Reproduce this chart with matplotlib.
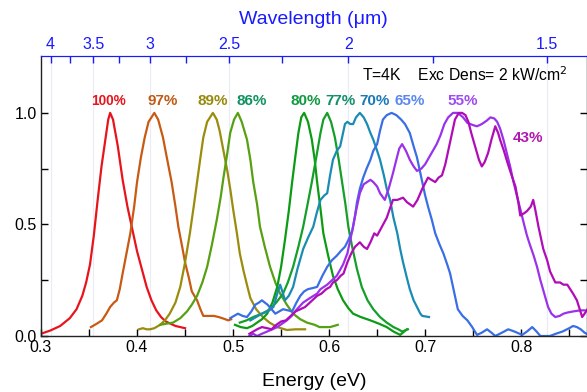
import numpy as np
import matplotlib
matplotlib.use("Agg")
import matplotlib.pyplot as plt
from matplotlib.ticker import FixedLocator, NullFormatter

plt.rcParams['font.family'] = ['Liberation Sans', 'DejaVu Sans']

# ---- data (energy in eV, normalized PL intensity) ----
e100 = [0.300, 0.310, 0.320, 0.330, 0.337, 0.343, 0.347, 0.351, 0.355, 0.359, 0.363, 0.367, 0.370, 0.372, 0.375,
        0.380, 0.385, 0.390, 0.395, 0.400, 0.405, 0.410, 0.415, 0.420, 0.425, 0.430, 0.440, 0.450]
i100 = [0.01, 0.025, 0.045, 0.08, 0.12, 0.18, 0.24, 0.32, 0.45, 0.61, 0.76, 0.88, 0.97, 1.0, 0.97,
        0.85, 0.70, 0.58, 0.48, 0.38, 0.30, 0.22, 0.16, 0.115, 0.085, 0.065, 0.045, 0.035]

e97 = [0.352, 0.358, 0.3635, 0.368, 0.372, 0.376, 0.379, 0.382, 0.385, 0.389, 0.393, 0.397, 0.400,
       0.404, 0.408, 0.412, 0.418, 0.422, 0.427, 0.431, 0.436, 0.440, 0.443, 0.447, 0.450, 0.454,
       0.457, 0.4625, 0.466, 0.469, 0.475, 0.480, 0.485, 0.490, 0.495, 0.498]
i97 = [0.04, 0.055, 0.07, 0.10, 0.13, 0.15, 0.16, 0.21, 0.28, 0.37, 0.46, 0.58, 0.69,
       0.80, 0.89, 0.96, 1.0, 0.97, 0.89, 0.80, 0.69, 0.58, 0.49, 0.40, 0.33, 0.26,
       0.20, 0.16, 0.12, 0.09, 0.09, 0.09, 0.085, 0.078, 0.07, 0.075]

e89 = [0.402, 0.406, 0.410, 0.4135, 0.418, 0.424, 0.429, 0.434, 0.440, 0.445, 0.450, 0.455, 0.459,
       0.4625, 0.466, 0.469, 0.473, 0.479, 0.483, 0.486, 0.490, 0.494, 0.497, 0.500, 0.504, 0.507,
       0.511, 0.515, 0.518, 0.524, 0.531, 0.538, 0.546, 0.556, 0.565, 0.575]
i89 = [0.03, 0.035, 0.03, 0.03, 0.035, 0.05, 0.07, 0.10, 0.15, 0.22, 0.33, 0.46, 0.58,
       0.69, 0.80, 0.89, 0.96, 1.0, 0.97, 0.92, 0.83, 0.74, 0.66, 0.57, 0.46, 0.37,
       0.29, 0.22, 0.17, 0.12, 0.085, 0.06, 0.04, 0.027, 0.03, 0.03]

e86 = [0.424, 0.430, 0.4375, 0.445, 0.452, 0.457, 0.4625, 0.468, 0.473, 0.478, 0.483, 0.487, 0.490,
       0.494, 0.497, 0.501, 0.505, 0.509, 0.5145, 0.518, 0.521, 0.525, 0.528, 0.533, 0.5385, 0.544,
       0.549, 0.556, 0.5625, 0.570, 0.577, 0.585, 0.590, 0.596, 0.601, 0.609]
i86 = [0.05, 0.055, 0.06, 0.08, 0.11, 0.14, 0.18, 0.24, 0.31, 0.41, 0.52, 0.62, 0.71,
       0.82, 0.91, 0.97, 1.0, 0.96, 0.88, 0.79, 0.69, 0.59, 0.49, 0.40, 0.31, 0.24,
       0.19, 0.14, 0.10, 0.075, 0.06, 0.05, 0.04, 0.04, 0.04, 0.05]

e80 = [0.502, 0.508, 0.5145, 0.520, 0.525, 0.530, 0.5355, 0.541, 0.546, 0.550, 0.554, 0.558, 0.5615,
       0.565, 0.568, 0.571, 0.574, 0.578, 0.582, 0.585, 0.5875, 0.591, 0.594, 0.599, 0.604, 0.609,
       0.6145, 0.620, 0.625, 0.633, 0.643, 0.652, 0.660, 0.667, 0.674, 0.681]
i80 = [0.05, 0.04, 0.035, 0.045, 0.06, 0.075, 0.10, 0.15, 0.22, 0.31, 0.43, 0.56, 0.69,
       0.81, 0.91, 0.98, 1.0, 0.96, 0.88, 0.79, 0.69, 0.57, 0.46, 0.36, 0.27, 0.21,
       0.16, 0.125, 0.10, 0.085, 0.07, 0.055, 0.04, 0.02, 0.005, 0.03]

e77 = [0.507, 0.514, 0.521, 0.530, 0.5385, 0.545, 0.552, 0.557, 0.5625, 0.568, 0.573, 0.578, 0.582,
       0.587, 0.591, 0.594, 0.598, 0.602, 0.606, 0.610, 0.6135, 0.617, 0.620, 0.624, 0.629, 0.634,
       0.640, 0.646, 0.653, 0.660, 0.667, 0.672, 0.676, 0.682]
i77 = [0.06, 0.07, 0.085, 0.10, 0.12, 0.15, 0.19, 0.24, 0.31, 0.40, 0.49, 0.60, 0.69,
       0.81, 0.91, 0.97, 1.0, 0.96, 0.89, 0.79, 0.69, 0.59, 0.49, 0.40, 0.30, 0.22,
       0.16, 0.12, 0.085, 0.06, 0.04, 0.03, 0.02, 0.03]

e70 = [0.518, 0.524, 0.530, 0.536, 0.542, 0.546, 0.549, 0.552, 0.554, 0.558, 0.5625, 0.567, 0.573,
       0.578, 0.5835, 0.587, 0.591, 0.595, 0.598, 0.601, 0.604, 0.608, 0.6115, 0.614, 0.6165, 0.619,
       0.622, 0.625, 0.628, 0.632, 0.636, 0.6395, 0.643, 0.646, 0.650, 0.653, 0.657, 0.660, 0.6635,
       0.667, 0.671, 0.674, 0.677, 0.681, 0.684, 0.688, 0.6915, 0.695, 0.697, 0.700, 0.704]
i70 = [0.07, 0.085, 0.10, 0.11, 0.13, 0.19, 0.23, 0.19, 0.16, 0.18, 0.22, 0.30, 0.39,
       0.44, 0.49, 0.55, 0.61, 0.63, 0.64, 0.72, 0.79, 0.83, 0.85, 0.90, 0.95, 0.96,
       0.95, 0.95, 0.98, 1.0, 0.98, 0.95, 0.91, 0.88, 0.83, 0.79, 0.72, 0.66, 0.61,
       0.53, 0.46, 0.39, 0.33, 0.26, 0.21, 0.16, 0.13, 0.10, 0.09, 0.088, 0.085]

e65 = [0.497, 0.501, 0.505, 0.510, 0.5145, 0.519, 0.523, 0.527, 0.530, 0.533, 0.536, 0.540, 0.544,
       0.548, 0.552, 0.557, 0.5615, 0.566, 0.570, 0.574, 0.578, 0.583, 0.5875, 0.593, 0.598, 0.603,
       0.608, 0.612, 0.6165, 0.620, 0.624, 0.627, 0.629, 0.632, 0.6355, 0.639, 0.643, 0.646, 0.650,
       0.653, 0.656, 0.660, 0.665, 0.670, 0.675, 0.679, 0.684, 0.688, 0.6915, 0.694, 0.697, 0.700,
       0.703, 0.707, 0.7105, 0.715, 0.719, 0.723, 0.726, 0.730, 0.734, 0.739, 0.744, 0.749, 0.754,
       0.759, 0.7645, 0.769, 0.773, 0.780, 0.7865, 0.793, 0.801, 0.806, 0.8115, 0.816, 0.820, 0.825,
       0.830, 0.836, 0.843, 0.850, 0.854, 0.858, 0.862, 0.866, 0.870]
i65 = [0.08, 0.09, 0.10, 0.09, 0.085, 0.11, 0.14, 0.15, 0.16, 0.15, 0.14, 0.12, 0.10,
       0.11, 0.12, 0.115, 0.11, 0.15, 0.18, 0.20, 0.21, 0.215, 0.22, 0.27, 0.31, 0.34,
       0.36, 0.38, 0.40, 0.43, 0.47, 0.54, 0.60, 0.66, 0.71, 0.75, 0.79, 0.83, 0.86,
       0.92, 0.97, 0.99, 1.0, 0.99, 0.97, 0.95, 0.91, 0.85, 0.80, 0.75, 0.69, 0.63,
       0.58, 0.52, 0.46, 0.41, 0.37, 0.32, 0.28, 0.20, 0.12, 0.09, 0.07, 0.04, 0.005,
       0.015, 0.03, 0.015, 0.0, 0.015, 0.03, 0.02, 0.005, 0.02, 0.04, 0.02, 0.0, 0.0,
       0.0, 0.01, 0.02, 0.035, 0.045, 0.04, 0.03, 0.015, 0.005]

e55 = [0.517, 0.521, 0.525, 0.530, 0.5355, 0.541, 0.546, 0.551, 0.556, 0.561, 0.5665, 0.573, 0.580,
       0.5875, 0.591, 0.598, 0.603, 0.608, 0.6145, 0.619, 0.622, 0.625, 0.628, 0.632, 0.636, 0.6395,
       0.643, 0.646, 0.650, 0.653, 0.658, 0.662, 0.6665, 0.670, 0.673, 0.676, 0.680, 0.684, 0.688,
       0.6915, 0.696, 0.700, 0.704, 0.708, 0.712, 0.716, 0.720, 0.724, 0.729, 0.734, 0.7395, 0.744,
       0.750, 0.754, 0.759, 0.764, 0.768, 0.772, 0.775, 0.778, 0.7815, 0.785, 0.7885, 0.792, 0.796,
       0.799, 0.803, 0.806, 0.809, 0.813, 0.8165, 0.820, 0.824, 0.828, 0.8315, 0.8355, 0.840, 0.844,
       0.848, 0.854, 0.8615, 0.866, 0.870]
i55 = [0.0, 0.01, 0.0, 0.01, 0.02, 0.03, 0.04, 0.055, 0.07, 0.09, 0.12, 0.15, 0.17,
       0.19, 0.21, 0.23, 0.25, 0.27, 0.32, 0.37, 0.43, 0.49, 0.56, 0.64, 0.68, 0.69,
       0.70, 0.69, 0.67, 0.64, 0.61, 0.66, 0.73, 0.79, 0.84, 0.86, 0.83, 0.79, 0.76,
       0.74, 0.75, 0.77, 0.80, 0.83, 0.86, 0.90, 0.95, 0.98, 1.0, 1.0, 0.98, 0.955,
       0.945, 0.94, 0.95, 0.965, 0.98, 0.975, 0.96, 0.93, 0.88, 0.82, 0.76, 0.69, 0.62,
       0.57, 0.50, 0.45, 0.41, 0.36, 0.31, 0.25, 0.19, 0.13, 0.10, 0.085, 0.09, 0.10,
       0.105, 0.11, 0.115, 0.115, 0.11]

e43 = [0.517, 0.521, 0.525, 0.530, 0.5355, 0.540, 0.545, 0.550, 0.555, 0.560, 0.565, 0.570, 0.575,
       0.580, 0.585, 0.5875, 0.592, 0.597, 0.601, 0.604, 0.608, 0.612, 0.615, 0.619, 0.623, 0.627,
       0.632, 0.636, 0.6395, 0.643, 0.647, 0.650, 0.655, 0.660, 0.664, 0.6665, 0.671, 0.677, 0.681,
       0.6875, 0.692, 0.697, 0.703, 0.7065, 0.7105, 0.714, 0.7175, 0.721, 0.724, 0.728, 0.731, 0.735,
       0.7385, 0.742, 0.745, 0.748, 0.752, 0.756, 0.759, 0.762, 0.7655, 0.769, 0.773, 0.776, 0.778,
       0.782, 0.7855, 0.790, 0.794, 0.797, 0.799, 0.803, 0.806, 0.810, 0.8125, 0.8145, 0.818, 0.823,
       0.827, 0.830, 0.8355, 0.8405, 0.844, 0.848, 0.851, 0.854, 0.858, 0.8635, 0.866, 0.869]
i43 = [0.01, 0.02, 0.03, 0.04, 0.035, 0.03, 0.05, 0.065, 0.07, 0.09, 0.11, 0.12, 0.13,
       0.15, 0.17, 0.18, 0.19, 0.21, 0.22, 0.24, 0.25, 0.27, 0.28, 0.33, 0.37, 0.40,
       0.42, 0.40, 0.39, 0.42, 0.46, 0.45, 0.49, 0.53, 0.58, 0.61, 0.61, 0.62, 0.60,
       0.58, 0.61, 0.66, 0.71, 0.70, 0.69, 0.71, 0.72, 0.77, 0.83, 0.91, 0.97, 1.0,
       1.0, 0.99, 0.96, 0.91, 0.85, 0.79, 0.76, 0.78, 0.82, 0.88, 0.94, 0.91, 0.88,
       0.83, 0.78, 0.72, 0.67, 0.60, 0.54, 0.55, 0.56, 0.58, 0.61, 0.57, 0.49, 0.39,
       0.34, 0.29, 0.24, 0.24, 0.23, 0.23, 0.21, 0.19, 0.16, 0.085, 0.10, 0.12]

labels = ['100%', '97%', '89%', '86%', '80%', '77%', '70%', '65%', '55%', '43%']
label_x = [0.3698, 0.4268, 0.4792, 0.5193, 0.5753, 0.6122, 0.6476, 0.6844, 0.7389, 0.8073]
label_y = [1.036, 1.036, 1.036, 1.036, 1.036, 1.036, 1.036, 1.036, 1.036, 0.871]
label_size = [9.8, 11, 11, 11, 11, 11, 11, 11, 11, 11]

wl_major = [4, 3.5, 3, 2.5, 2, 1.5]
wl_minor = [3.75, 3.25, 2.75, 2.25, 1.75]

series = [(e100, i100), (e97, i97), (e89, i89), (e86, i86), (e80, i80),
          (e77, i77), (e70, i70), (e65, i65), (e55, i55), (e43, i43)]
line_colors = ['#e8141c', '#c85a14', '#9a8c0c', '#56a012', '#0c9c14',
               '#14a028', '#1a8cb4', '#3a6ee6', '#9a32ec', '#b00cb8']
text_colors = ['#e8141c', '#c05a14', '#968a0c', '#109260', '#109a40',
               '#10906a', '#1a7ab8', '#5a88f0', '#a04cf0', '#b018b0']

BLUE = '#1a1aff'
HC = 1.2398

fig = plt.figure(figsize=(5.87, 3.92), dpi=100)
ax = fig.add_axes([41 / 587, 56 / 392, 545.5 / 587, 280 / 392])

for lw in wl_major:
    ax.axvline(HC / lw, color='#ebebf8', lw=0.8, zorder=0)

for (ex, iy), c in zip(series, line_colors):
    ax.plot(ex, iy, color=c, lw=1.6, solid_joinstyle='round', zorder=2)

for t, x, y, c, fs in zip(labels, label_x, label_y, text_colors, label_size):
    ax.text(x, y, t, color=c, fontsize=fs, fontweight='bold', ha='center', va='baseline')

ax.text(0.6345, 1.128, 'T=4K    Exc Dens= 2 kW/cm$^2$', fontsize=11.3, color='black',
        ha='left', va='bottom')

ax.set_xlim(0.3, 0.868)
ax.set_ylim(0, 1.255)

ax.xaxis.set_major_locator(FixedLocator([0.3, 0.4, 0.5, 0.6, 0.7, 0.8]))
ax.xaxis.set_minor_locator(FixedLocator([0.35, 0.45, 0.55, 0.65, 0.75, 0.85]))
ax.yaxis.set_major_locator(FixedLocator([0.0, 0.5, 1.0]))
ax.yaxis.set_minor_locator(FixedLocator([0.25, 0.75]))
ax.set_xticklabels(['0.3', '0.4', '0.5', '0.6', '0.7', '0.8'])
ax.set_yticklabels(['0.0', '0.5', '1.0'])
ax.tick_params(axis='both', which='both', direction='in', length=5, width=1,
               labelsize=11.5, top=False, right=True, bottom=True, left=True, pad=3)
ax.tick_params(axis='y', which='both', labelright=False)

for s in ['left', 'bottom', 'right']:
    ax.spines[s].set_linewidth(1.0)
    ax.spines[s].set_color('#222222')
ax.spines['top'].set_color(BLUE)

ax.set_xlabel('Energy (eV)', fontsize=14, labelpad=13)


def e2l(e):
    e = np.asarray(e, dtype=float)
    with np.errstate(divide='ignore', invalid='ignore'):
        return HC / e


sec = ax.secondary_xaxis('top', functions=(e2l, e2l))
sec.xaxis.set_major_locator(FixedLocator(wl_major))
sec.xaxis.set_minor_locator(FixedLocator(wl_minor))
sec.xaxis.set_minor_formatter(NullFormatter())
sec.set_xticklabels(['4', '3.5', '3', '2.5', '2', '1.5'])
sec.tick_params(axis='x', which='both', direction='in', length=5, width=1,
                colors=BLUE, labelsize=11.5, pad=3)
sec.spines['top'].set_color(BLUE)
sec.set_xlabel('Wavelength (\u03bcm)', fontsize=14, color=BLUE, labelpad=9)

fig.savefig('out.png', dpi=100)
